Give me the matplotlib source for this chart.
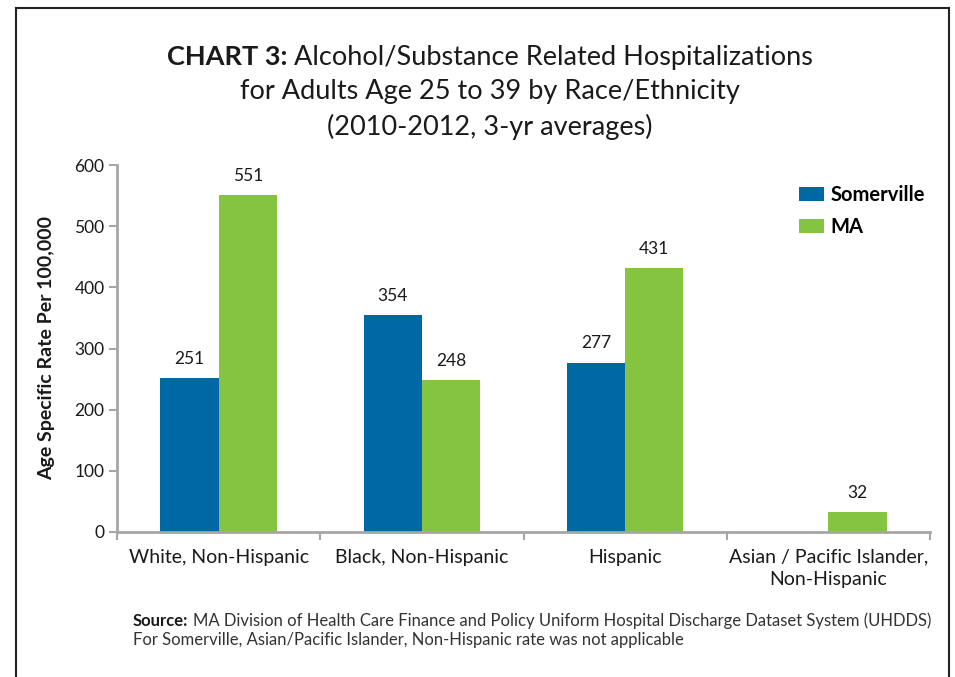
import matplotlib
matplotlib.use("Agg")
import matplotlib.pyplot as plt
from matplotlib.lines import Line2D
import numpy as np

categories = ["White, Non-Hispanic", "Black, Non-Hispanic", "Hispanic",
              "Asian / Pacific Islander,\nNon-Hispanic"]
somerville = [251, 354, 277, None]
ma = [551, 248, 431, 32]
series_names = ["Somerville", "MA"]
yticks = [0, 100, 200, 300, 400, 500, 600]

BLUE = "#0068A5"
GREEN = "#84C441"
GRAY = "#A6A6A6"
TXT = "#1a1a1a"

plt.rcParams['font.family'] = ['Lato', 'DejaVu Sans']

W, H = 955, 677
fig = plt.figure(figsize=(W/100, H/100), dpi=100)
ax = fig.add_axes([117/W, 1-532/H, (930-117)/W, (532-165)/H])

x = np.arange(len(categories))
w = 0.286
s_vals = np.array([np.nan if v is None else v for v in somerville], dtype=float)
m_vals = np.array(ma, dtype=float)
ax.bar(x - w/2, s_vals, w, color=BLUE, label=series_names[0])
ax.bar(x + w/2, m_vals, w, color=GREEN, label=series_names[1])

for xs, vals in ((x - w/2, s_vals), (x + w/2, m_vals)):
    for xi, v in zip(xs, vals):
        if not np.isnan(v):
            ax.annotate(f"{int(v)}", (xi, v), xytext=(0, 8), textcoords="offset points",
                        ha="center", va="bottom", fontsize=12.5, color=TXT)

ax.set_xlim(-0.5, len(categories) - 0.5)
ax.set_ylim(0, 600)
ax.set_yticks(yticks)
ax.set_yticklabels([str(t) for t in yticks], fontsize=12.5, color=TXT)
ax.set_xticks(np.arange(-0.5, len(categories), 1.0))
ax.set_xticklabels([])
ax.set_xticks(x, minor=True)
ax.set_xticklabels(categories, minor=True, fontsize=14, color=TXT, linespacing=1.35)
ax.tick_params(axis="x", which="minor", length=0, pad=12)
ax.tick_params(axis="x", which="major", length=6, width=1.5, color=GRAY, direction="out")
ax.tick_params(axis="y", length=6, width=1.5, color=GRAY, direction="out", pad=3)

for s in ["top", "right"]:
    ax.spines[s].set_visible(False)
for s in ["left", "bottom"]:
    ax.spines[s].set_color(GRAY)
    ax.spines[s].set_linewidth(2)

ax.set_ylabel("Age Specific Rate Per 100,000", fontsize=14, fontweight="bold",
              color=TXT, labelpad=14)

ax.legend(loc="upper left", bbox_to_anchor=(0.821, 0.985), frameon=False,
          prop={"size": 14.5, "weight": "bold"}, handlelength=1.25,
          handleheight=0.7, labelspacing=0.62, handletextpad=0.35, borderpad=0.2)

fig.canvas.draw()
renderer = fig.canvas.get_renderer()


def mixed_line(parts, y_px, center_px=None, left_px=None, fontsize=19.5):
    """parts: list of (text, weight, color). Place them side by side."""
    arts = []
    for txt, wt, col in parts:
        a = fig.text(0, 1 - y_px/H, txt, fontsize=fontsize, fontweight=wt, color=col,
                     ha="left", va="center")
        arts.append(a)
    widths = [a.get_window_extent(renderer).width for a in arts]
    space = fontsize * 100/72 * 0.25
    total = sum(widths) + space * (len(arts) - 1)
    start = (center_px - total/2) if center_px is not None else left_px
    xpos = start
    for a, wd in zip(arts, widths):
        a.set_x(xpos / W)
        xpos += wd + space


title_c = 490
mixed_line([("CHART 3:", "bold", TXT), ("Alcohol/Substance Related Hospitalizations", "normal", TXT)],
           57, center_px=title_c)
mixed_line([("for Adults Age 25 to 39 by Race/Ethnicity", "normal", TXT)], 92, center_px=title_c)
mixed_line([("(2010-2012, 3-yr averages)", "normal", TXT)], 127, center_px=title_c)

mixed_line([("Source:", "bold", TXT),
            ("MA Division of Health Care Finance and Policy Uniform Hospital Discharge Dataset System (UHDDS)",
             "normal", "#333333")], 621, left_px=133, fontsize=12)
mixed_line([("For Somerville, Asian/Pacific Islander, Non-Hispanic rate was not applicable",
             "normal", "#333333")], 640, left_px=133, fontsize=12)

# Frame
for xs, ys in (([16, 16], [H, 8]), ([16, 949], [8, 8]), ([949, 949], [8, H])):
    fig.add_artist(Line2D([v/W for v in xs], [1 - v/H for v in ys], color="#222222",
                          lw=1.5, transform=fig.transFigure))

fig.savefig("out.png", dpi=100)
